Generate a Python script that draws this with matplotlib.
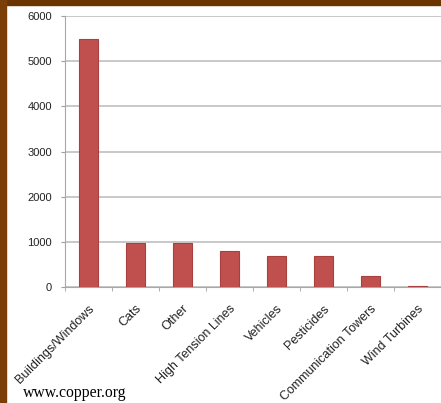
import matplotlib
matplotlib.use("Agg")
import matplotlib.pyplot as plt
from matplotlib.patches import Rectangle
import numpy as np

# bird deaths by cause
causes = ["Buildings/Windows", "Cats", "Other", "High Tension Lines", "Vehicles",
          "Pesticides", "Communication Towers", "Wind Turbines"]
deaths = [5500, 980, 980, 800, 700, 700, 250, 30]
yticks = [0, 1000, 2000, 3000, 4000, 5000, 6000]

plt.rcParams["font.family"] = ["Liberation Sans", "DejaVu Sans"]

fig = plt.figure(figsize=(4.41, 4.03), dpi=100)
ax = fig.add_axes([64.7 / 441, 115.7 / 403, 1 - 64.7 / 441, 271.3 / 403])

x = np.arange(len(causes))
ax.bar(x, deaths, width=0.4, color="#C0504D", edgecolor="#A8403D", linewidth=0.8, zorder=3)

ax.set_xlim(-0.5, len(causes) - 0.5)
ax.set_ylim(0, 6000)
ax.set_yticks(yticks)
ax.set_yticklabels([str(v) for v in yticks], fontsize=8, color="#222222")
ax.yaxis.grid(True, color="#c4c4c4", linewidth=1.3, zorder=0)
ax.tick_params(axis="y", length=3, color="#a0a0a0", pad=6)

# category labels at centers, tick marks at category edges (excel style)
ax.set_xticks(x)
ax.set_xticklabels(causes, rotation=45, ha="right", rotation_mode="anchor",
                   fontsize=9, color="#222222")
ax.tick_params(axis="x", which="major", length=0, pad=11)
ax.set_xticks(np.arange(-0.5, len(causes)), minor=True)
ax.tick_params(axis="x", which="minor", length=3, color="#a0a0a0")

for side in ["top", "right"]:
    ax.spines[side].set_visible(False)
ax.spines["left"].set_color("#a8a8a8")
ax.spines["bottom"].set_color("#a8a8a8")

# brown frame on top and left
fig.patches.append(Rectangle((0, 1 - 5 / 403), 1, 5 / 403, transform=fig.transFigure,
                             color="#6B3500", zorder=10))
fig.patches.append(Rectangle((0, 0), 6 / 441, 1, transform=fig.transFigure,
                             color="#7A3E08", zorder=10))

fig.text(23 / 441, 1 - 393 / 403, "www.copper.org", fontsize=11.3,
         family=["Liberation Serif", "DejaVu Serif"], va="center", ha="left")

plt.savefig("out.png", dpi=100)
